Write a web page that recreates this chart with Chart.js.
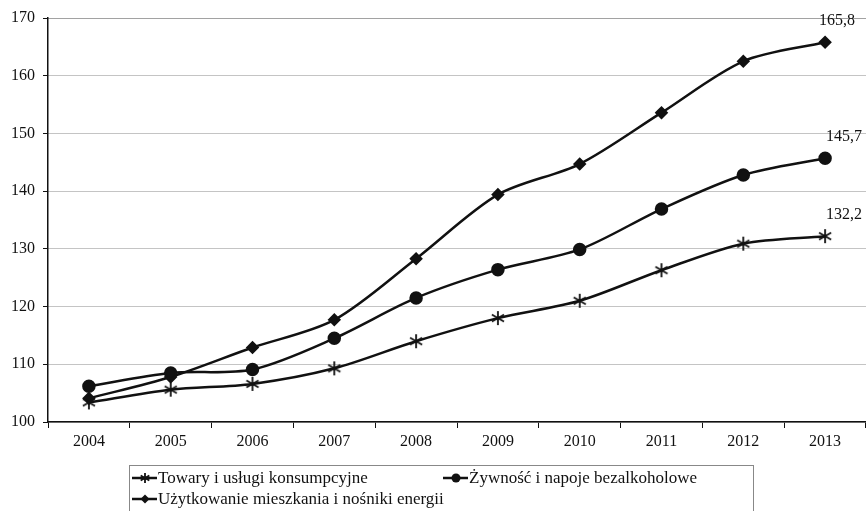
<!DOCTYPE html>
<html>
<head>
<meta charset="utf-8">
<script src="https://cdn.jsdelivr.net/npm/chart.js@4/dist/chart.umd.min.js"></script>
<style>
  html, body { margin: 0; padding: 0; background: #fff; }
  #wrap { width: 866px; height: 511px; }
</style>
</head>
<body>
<div id="wrap"><canvas id="chart"></canvas></div>
<script>
const YEARS = ['2004', '2005', '2006', '2007', '2008', '2009', '2010', '2011', '2012', '2013'];
const TOWARY = [103.4, 105.6, 106.6, 109.3, 114.0, 118.0, 121.0, 126.3, 130.9, 132.2];
const ZYWNOSC = [106.2, 108.5, 109.1, 114.5, 121.5, 126.4, 129.9, 136.9, 142.8, 145.7];
const MIESZKANIE = [104.1, 107.8, 112.9, 117.7, 128.3, 139.4, 144.7, 153.6, 162.5, 165.8];
const NAMES = ['Towary i usługi konsumpcyjne', 'Żywność i napoje bezalkoholowe', 'Użytkowanie mieszkania i nośniki energii'];

const INK = '#111';
const FONT = '"Liberation Serif", "Times New Roman", serif';

// asterisk marker, like the Excel one
function asterisk(r) {
  const c = document.createElement('canvas');
  c.width = c.height = r * 2 + 2;
  const g = c.getContext('2d');
  const m = r + 1;
  g.strokeStyle = INK;
  g.lineWidth = 1.8;
  g.beginPath();
  for (let a = 0; a < 3; a++) {
    const t = Math.PI / 2 + a * Math.PI / 3;
    g.moveTo(m + Math.cos(t) * r, m + Math.sin(t) * r);
    g.lineTo(m - Math.cos(t) * r, m - Math.sin(t) * r);
  }
  g.stroke();
  return c;
}
const STAR = asterisk(7);
const STAR_SMALL = asterisk(5);

const lastLabels = {
  id: 'lastLabels',
  afterDatasetsDraw(chart) {
    const ctx = chart.ctx;
    const dx = [19, 19, 12];
    ctx.save();
    ctx.font = '16px ' + FONT;
    ctx.fillStyle = INK;
    ctx.textAlign = 'center';
    ctx.textBaseline = 'middle';
    chart.data.datasets.forEach((ds, i) => {
      const pts = chart.getDatasetMeta(i).data;
      const p = pts[pts.length - 1];
      const v = ds.data[ds.data.length - 1];
      ctx.fillText(v.toFixed(1).replace('.', ','), p.x + dx[i], p.y - 21);
    });
    ctx.restore();
  }
};

const boxLegend = {
  id: 'boxLegend',
  afterDraw(chart) {
    const ctx = chart.ctx;
    const spots = [[131, 478], [442, 478], [131, 499]];
    ctx.save();
    ctx.strokeStyle = '#888';
    ctx.lineWidth = 1;
    ctx.strokeRect(129.5, 465.5, 624, 60);
    ctx.font = '17px ' + FONT;
    ctx.textBaseline = 'middle';
    ctx.fillStyle = INK;
    chart.data.datasets.forEach((ds, i) => {
      const [x, y] = spots[i];
      ctx.strokeStyle = INK;
      ctx.lineWidth = 2.5;
      ctx.beginPath();
      ctx.moveTo(x + 1, y);
      ctx.lineTo(x + 26, y);
      ctx.stroke();
      const cx = x + 14;
      if (i === 0) {
        ctx.drawImage(STAR_SMALL, cx - 6, y - 6);
      } else if (i === 1) {
        ctx.beginPath();
        ctx.arc(cx, y, 4.5, 0, Math.PI * 2);
        ctx.fill();
      } else {
        ctx.beginPath();
        ctx.moveTo(cx, y - 4.5);
        ctx.lineTo(cx + 4.5, y);
        ctx.lineTo(cx, y + 4.5);
        ctx.lineTo(cx - 4.5, y);
        ctx.closePath();
        ctx.fill();
      }
      ctx.fillText(ds.label, x + 27, y + 1);
    });
    ctx.restore();
  }
};

const common = {
  borderColor: INK,
  backgroundColor: INK,
  pointBackgroundColor: INK,
  pointBorderColor: INK,
  borderWidth: 2.5,
  tension: 0.3,
  clip: false,
};

new Chart(document.getElementById('chart'), {
  type: 'line',
  data: {
    labels: YEARS,
    datasets: [
      { ...common, label: NAMES[0], data: TOWARY, pointStyle: STAR, pointRadius: 7 },
      { ...common, label: NAMES[1], data: ZYWNOSC, pointStyle: 'circle', pointRadius: 5.5 },
      { ...common, label: NAMES[2], data: MIESZKANIE, pointStyle: 'rectRot', pointRadius: 5 },
    ],
  },
  options: {
    responsive: true,
    maintainAspectRatio: false,
    animation: false,
    layout: { autoPadding: false, padding: { top: 18, right: 0, left: 0, bottom: 0 } },
    plugins: { legend: { display: false }, tooltip: { enabled: false } },
    scales: {
      x: {
        offset: true,
        afterFit(s) { s.height = 89; },
        border: { color: INK, width: 1.5 },
        grid: { offset: true, drawOnChartArea: false, color: INK, tickLength: 6 },
        ticks: { color: INK, font: { family: FONT, size: 16 }, padding: 4, maxRotation: 0 },
      },
      y: {
        min: 100,
        max: 170,
        afterFit(s) { s.width = 48; },
        border: { color: INK, width: 1.5, dash: [1, 1] },
        grid: {
          color: (c) => (c.tick && c.tick.value === 170 ? '#444' : '#888'),
          lineWidth: 1,
          tickColor: INK,
          tickLength: 5,
          tickBorderDash: [],
        },
        ticks: { stepSize: 10, color: INK, font: { family: FONT, size: 16 }, padding: 8 },
      },
    },
  },
  plugins: [lastLabels, boxLegend],
});
</script>
</body>
</html>
